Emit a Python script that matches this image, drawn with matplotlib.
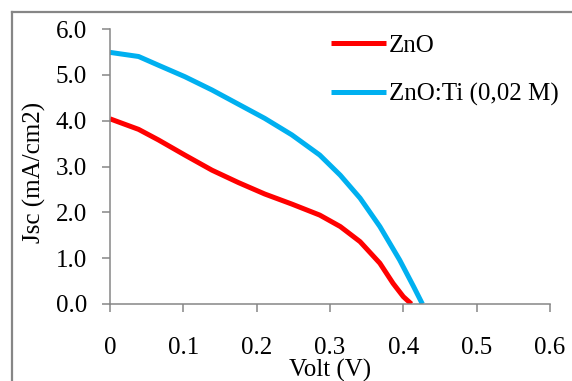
import matplotlib
matplotlib.use("Agg")
import matplotlib.pyplot as plt
from matplotlib.lines import Line2D

# J-V curves
volt_zno = [0, 0.039, 0.066, 0.102, 0.139, 0.175, 0.211, 0.248, 0.286, 0.314,
            0.341, 0.368, 0.386, 0.400, 0.411]
jsc_zno = [4.04, 3.81, 3.58, 3.25, 2.92, 2.65, 2.40, 2.18, 1.94, 1.69,
           1.36, 0.89, 0.45, 0.16, 0.0]

volt_ti = [0, 0.039, 0.066, 0.102, 0.139, 0.175, 0.211, 0.248, 0.286, 0.314,
           0.341, 0.368, 0.395, 0.414, 0.426]
jsc_ti = [5.49, 5.40, 5.21, 4.96, 4.67, 4.36, 4.05, 3.69, 3.25, 2.81,
          2.31, 1.69, 0.96, 0.38, 0.0]

labels = ["ZnO", "ZnO:Ti (0,02 M)"]
x_ticks = [0, 0.1, 0.2, 0.3, 0.4, 0.5, 0.6]
x_ticklabels = ["0", "0.1", "0.2", "0.3", "0.4", "0.5", "0.6"]
y_ticks = [0, 1, 2, 3, 4, 5, 6]

plt.rcParams["font.family"] = ["Liberation Serif", "DejaVu Serif"]
gray = "#868686"
fs = 18

fig = plt.figure(figsize=(5.72, 3.81), dpi=100)
ax = fig.add_axes([110 / 572, 1 - 304 / 381, 440 / 572, 275 / 381])

ax.plot(volt_zno, jsc_zno, color="#ff0000", lw=3.6, solid_capstyle="butt",
        solid_joinstyle="round", label=labels[0])
ax.plot(volt_ti, jsc_ti, color="#00b0f0", lw=3.6, solid_capstyle="butt",
        solid_joinstyle="round", label=labels[1])

ax.set_xlim(0, 0.6)
ax.set_ylim(0, 6.0)
ax.set_xticks(x_ticks)
ax.set_xticklabels(x_ticklabels)
ax.set_yticks(y_ticks)
ax.set_yticklabels([f"{v:.1f}" for v in y_ticks])

for s in ["top", "right"]:
    ax.spines[s].set_visible(False)
for s in ["left", "bottom"]:
    ax.spines[s].set_color(gray)
    ax.spines[s].set_linewidth(1.1)
ax.tick_params(axis="both", direction="out", length=5.5, width=1.1, color=gray,
               labelsize=fs, labelcolor="black")
ax.tick_params(axis="x", pad=18)
ax.tick_params(axis="y", pad=11)

ax.set_xlabel("Volt (V)", fontsize=fs)
ax.xaxis.set_label_coords(0.5, -0.198)
ax.set_ylabel("Jsc (mA/cm2)", fontsize=fs)
ax.yaxis.set_label_coords(-0.145, 0.48)

fig.legend(loc="upper left", bbox_to_anchor=(331 / 572, 1 - 34 / 381),
           frameon=False, fontsize=fs, handlelength=2.2, handletextpad=0.12,
           labelspacing=1.07, borderpad=0, borderaxespad=0)

# outer chart frame (only left and top edges are visible in the crop)
fig.add_artist(Line2D([11.5 / 572, 11.5 / 572], [0, 1 - 12 / 381],
                      transform=fig.transFigure, color=gray, lw=1.6))
fig.add_artist(Line2D([11.5 / 572, 1], [1 - 12 / 381, 1 - 12 / 381],
                      transform=fig.transFigure, color=gray, lw=1.6))

fig.savefig("out.png", dpi=100)
